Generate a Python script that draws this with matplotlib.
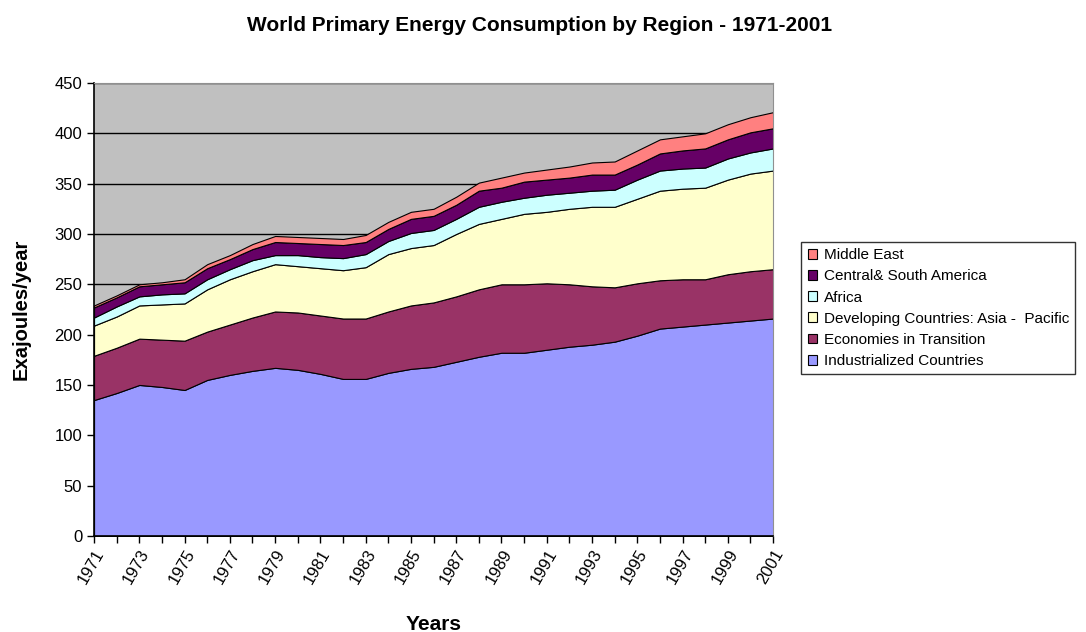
import matplotlib.pyplot as plt
import numpy as np

plt.rcParams['font.family'] = ['Liberation Sans', 'DejaVu Sans']

years = list(range(1971, 2002))

# Exajoules per year, stacked bottom to top
industrialized = [135, 142, 150, 148, 145, 155, 160, 164, 167, 165, 161, 156, 156, 162, 166, 168,
                  173, 178, 182, 182, 185, 188, 190, 193, 199, 206, 208, 210, 212, 214, 216]
transition = [44, 45, 46, 47, 49, 48, 50, 53, 56, 57, 58, 60, 60, 61, 63, 64,
              65, 67, 68, 68, 66, 62, 58, 54, 52, 48, 47, 45, 48, 49, 49]
asia_pacific = [30, 31, 33, 35, 37, 42, 45, 46, 47, 46, 47, 48, 51, 57, 57, 57,
                62, 65, 65, 70, 71, 75, 79, 80, 84, 89, 90, 91, 94, 97, 98]
africa = [8, 10, 9, 10, 10, 10, 10, 11, 9, 11, 11, 12, 13, 13, 15, 15,
          15, 17, 17, 16, 17, 16, 16, 17, 19, 20, 20, 20, 21, 21, 22]
south_america = [10, 9, 10, 10, 11, 11, 10, 11, 13, 12, 13, 13, 12, 12, 14, 14,
                 14, 16, 14, 16, 15, 15, 16, 15, 15, 17, 18, 19, 19, 20, 20]
middle_east = [2, 2, 2, 2, 3, 4, 4, 5, 6, 6, 6, 6, 7, 7, 7, 7,
               8, 8, 10, 9, 10, 11, 12, 13, 14, 14, 14, 15, 15, 15, 16]

labels = ['Industrialized Countries', 'Economies in Transition',
          'Developing Countries: Asia -  Pacific', 'Africa',
          'Central& South America', 'Middle East']
colors = ['#9999FF', '#993366', '#FFFFCC', '#CCFFFF', '#660066', '#FF8080']

fig = plt.figure(figsize=(10.86, 6.32), dpi=100)
ax = fig.add_axes([0.0866, 0.152, 0.6253, 0.7167])
ax.set_facecolor('#C0C0C0')

polys = ax.stackplot(years, industrialized, transition, asia_pacific, africa,
                     south_america, middle_east, labels=labels, colors=colors,
                     edgecolor='black', linewidth=0.8)

ax.set_xlim(1971, 2001)
ax.set_ylim(0, 450)
ax.set_yticks(np.arange(0, 451, 50))
ax.yaxis.grid(True, color='black', linewidth=1.0)
ax.set_axisbelow(True)

ax.set_xticks(years)
ax.set_xticklabels([str(y) if (y - 1971) % 2 == 0 else '' for y in years],
                   rotation=60, ha='right', rotation_mode='anchor')
ax.tick_params(axis='both', direction='out', length=5, width=1, colors='black',
               labelsize=12)
ax.tick_params(axis='x', pad=3)

for side in ['top', 'right']:
    ax.spines[side].set_color('#909090')
for side in ['left', 'bottom']:
    ax.spines[side].set_color('black')
    ax.spines[side].set_linewidth(1.2)

ax.set_ylabel('Exajoules/year', fontsize=14.5, fontweight='bold', labelpad=17)
ax.set_xlabel('Years', fontsize=15, fontweight='bold', labelpad=20)
fig.suptitle('World Primary Energy Consumption by Region - 1971-2001',
             x=0.497, y=0.975, fontsize=15, fontweight='bold')

handles, leg_labels = ax.get_legend_handles_labels()
leg = fig.legend(handles[::-1], leg_labels[::-1], loc='upper left',
                 bbox_to_anchor=(0.738, 0.617), fontsize=11, frameon=True,
                 fancybox=False, edgecolor='black', handlelength=0.6,
                 handleheight=0.6, handletextpad=0.45, labelspacing=0.47,
                 borderpad=0.4, borderaxespad=0)
leg.get_frame().set_linewidth(1.0)

fig.savefig('out.png', dpi=100)
